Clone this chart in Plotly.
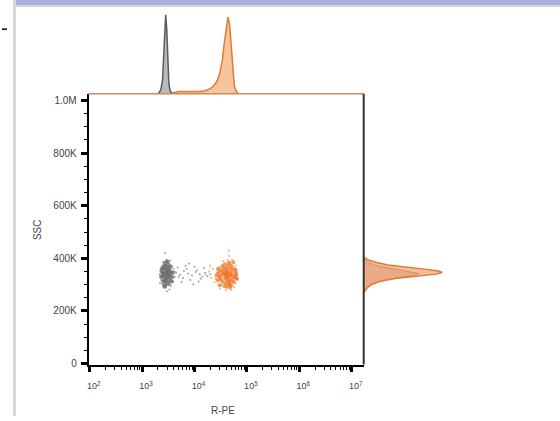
import numpy as np
import plotly.graph_objects as go

# ---------------- data (R-PE as log10 intensity, SSC in thousands) ----------------
gray_core_lx = [3.47,3.43,3.51,3.41,3.53,3.45,3.49,3.39,3.55,3.47,3.43,3.51,3.38,3.56,3.45,3.49,3.41,3.53,3.47,3.44,
                3.50,3.40,3.54,3.46,3.48,3.47,3.42,3.52,3.44,3.50,3.37,3.58,3.45,3.49,3.47,3.40,3.54,3.43,3.51,3.47,
                3.42,3.52,3.45,3.49,3.39,3.36,3.59,3.38,3.57,3.44]
gray_core_ssc = [340,352,330,318,362,372,308,345,338,325,382,355,330,348,300,368,336,322,358,312,
                 378,362,315,344,333,390,296,348,328,342,352,328,362,350,316,310,370,340,302,348,
                 372,335,322,386,342,330,345,362,312,292]
gray_sparse_lx = [3.37,3.56,3.35,3.39,3.58,3.40,3.55,3.36,3.60,3.38,3.33,3.62,3.41,3.54,3.34,3.44,3.47,3.52,3.39,3.57,
                  3.65,3.72,3.80,3.70,3.88,3.95,4.02,3.78,4.10,3.85,4.15,3.92,4.05,4.20,3.68,4.25,3.75,4.00,4.12,3.62,
                  3.98,4.18,3.83,4.30,4.08,3.90]
gray_sparse_ssc = [330,345,355,300,312,385,295,318,360,372,340,330,288,392,305,420,275,282,362,370,
                   345,338,352,330,342,335,348,325,340,360,330,318,355,345,365,332,310,368,322,350,
                   302,362,372,340,312,380]
orange_core_lx = [4.63,4.58,4.68,4.54,4.71,4.61,4.66,4.52,4.74,4.59,4.65,4.69,4.49,4.77,4.57,4.67,4.55,4.72,4.63,4.60,
                  4.66,4.50,4.75,4.61,4.64,4.53,4.70,4.58,4.67,4.46,4.79,4.61,4.65,4.51,4.73,4.59,4.68,4.62,4.56,4.71,
                  4.47,4.78,4.64,4.58,4.67,4.44,4.80,4.62,4.70,4.55,4.42,4.81,4.45,4.78,4.48,4.74]
orange_core_ssc = [332,345,320,310,352,365,300,338,328,322,375,342,325,340,295,360,350,315,348,305,
                   384,355,310,336,328,370,298,330,336,345,325,355,312,318,362,340,290,318,362,335,
                   332,350,345,378,306,318,338,292,372,342,335,322,360,358,298,385]
orange_sparse_lx = [4.48,4.50,4.46,4.78,4.80,4.47,4.77,4.51,4.79,4.45,4.82,4.49,4.76,4.63,4.66,4.60,4.70,4.55,4.44,4.81,
                    4.65,4.72,4.28,4.32,4.35,4.22,4.38,4.30,4.42,4.40]
orange_sparse_ssc = [330,350,315,330,355,365,305,298,372,342,320,285,290,395,410,280,280,390,355,345,
                     430,395,350,325,360,338,310,372,345,322]

# top histogram (R-PE)
gray_top_lx = [3.30,3.33,3.36,3.39,3.41,3.43,3.45,3.47,3.49,3.51,3.53,3.56,3.60]
gray_top_cnt = [0,2,6,18,45,80,100,82,40,14,5,1,0]
orange_top_lx = [3.50,3.60,3.70,3.80,3.90,4.00,4.10,4.20,4.28,4.35,4.42,4.48,4.53,4.57,4.61,4.64,4.67,4.70,4.73,4.76,4.80,4.84]
orange_top_cnt = [0,2,3,3,3,3,3,4,6,9,15,25,42,65,88,97,88,60,30,10,3,0]

# right histogram (SSC)
orange_right_ssc = [270,280,290,300,312,323,334,340,346,352,360,375,385,395,405]
orange_right_cnt = [0,2,5,10,20,40,74,92,100,95,74,31,15,5,0]
gray_right_ssc = [270,285,300,315,325,335,342,350,360,372,385,400]
gray_right_cnt = [0,3,9,22,40,62,70,55,35,16,5,0]

x_tick_vals = [1e2, 1e3, 1e4, 1e5, 1e6, 1e7]
x_tick_text = ["10<sup>2</sup>", "10<sup>3</sup>", "10<sup>4</sup>", "10<sup>5</sup>", "10<sup>6</sup>", "10<sup>7</sup>"]
y_tick_vals = [0, 200000, 400000, 600000, 800000, 1000000]
y_tick_text = ["0", "200K", "400K", "600K", "800K", "1.0M"]

# ---------------- figure ----------------
def raw(lx):
    return list(10 ** np.array(lx))

def k(v):
    return list(np.array(v) * 1000)

GRAY = "#6e6e6e"
ORANGE = "#f07526"

fig = go.Figure()
fig.add_trace(go.Scatter(x=raw(gray_sparse_lx), y=k(gray_sparse_ssc), mode="markers",
                         marker=dict(size=2, color="#8a8a8a", opacity=0.8), xaxis="x", yaxis="y"))
fig.add_trace(go.Scatter(x=raw(orange_sparse_lx), y=k(orange_sparse_ssc), mode="markers",
                         marker=dict(size=2, color="#f59a55", opacity=0.8), xaxis="x", yaxis="y"))
fig.add_trace(go.Scatter(x=raw(gray_core_lx), y=k(gray_core_ssc), mode="markers",
                         marker=dict(size=4, color=GRAY, opacity=0.75), xaxis="x", yaxis="y"))
fig.add_trace(go.Scatter(x=raw(orange_core_lx), y=k(orange_core_ssc), mode="markers",
                         marker=dict(size=4, color=ORANGE, opacity=0.75), xaxis="x", yaxis="y"))

# top histograms
fig.add_trace(go.Scatter(x=raw(orange_top_lx), y=orange_top_cnt, mode="lines", fill="tozeroy",
                         line=dict(color="#e07a35", width=1.5), fillcolor="rgba(247,180,130,0.8)",
                         xaxis="x2", yaxis="y2"))
fig.add_trace(go.Scatter(x=raw(gray_top_lx), y=gray_top_cnt, mode="lines", fill="tozeroy",
                         line=dict(color="#5a5a5a", width=1.5), fillcolor="rgba(180,180,180,0.9)",
                         xaxis="x2", yaxis="y2"))

# right histograms
fig.add_trace(go.Scatter(x=gray_right_cnt, y=k(gray_right_ssc), mode="lines", fill="tozerox",
                         line=dict(color="#9a6a50", width=1), fillcolor="rgba(190,160,150,0.6)",
                         xaxis="x3", yaxis="y3"))
fig.add_trace(go.Scatter(x=orange_right_cnt, y=k(orange_right_ssc), mode="lines", fill="tozerox",
                         line=dict(color="#e07a35", width=1.5), fillcolor="rgba(240,160,110,0.7)",
                         xaxis="x3", yaxis="y3"))

W, H = 560, 421
def px_x(p): return p / W
def px_y(p): return 1 - p / H

x_dom = [px_x(87), px_x(363)]
y_dom = [px_y(369), px_y(95)]

minor_x = [m * 10 ** d for d in range(2, 7) for m in range(2, 10)] + [2e7]

fig.update_layout(
    width=W, height=H, margin=dict(l=0, r=0, t=0, b=0),
    paper_bgcolor="white", plot_bgcolor="rgba(0,0,0,0)", showlegend=False,
    font=dict(family="Liberation Sans, Arial, sans-serif", size=10, color="#444"),
    xaxis=dict(type="log", range=[1.98, 7.23], domain=x_dom, anchor="y",
               tickmode="array", tickvals=x_tick_vals, ticktext=x_tick_text,
               ticks="outside", ticklen=5, tickwidth=2.5, tickcolor="black",
               showline=True, linecolor="black", linewidth=2, showgrid=False, zeroline=False,
               tickfont=dict(size=9, color="#444"), ticklabelshift=4, ticklabelstandoff=7,
               minor=dict(tickmode="array", tickvals=minor_x, ticks="outside", ticklen=3,
                          tickwidth=1, tickcolor="black", showgrid=False)),
    yaxis=dict(range=[-3750, 1024800], domain=y_dom, anchor="x",
               tickmode="array", tickvals=y_tick_vals, ticktext=y_tick_text,
               ticks="outside", ticklen=6, tickwidth=2.5, tickcolor="black",
               showline=True, linecolor="black", linewidth=2, showgrid=False, zeroline=False,
               tickfont=dict(size=10, color="#444"), ticklabelstandoff=2,
               minor=dict(dtick=50000, ticks="outside", ticklen=3, tickwidth=1,
                          tickcolor="black", showgrid=False)),
    xaxis2=dict(type="log", range=[1.98, 7.23], domain=x_dom, anchor="y2", visible=False),
    yaxis2=dict(range=[0, 102.5], domain=[px_y(95), px_y(13)], anchor="x2", visible=False),
    xaxis3=dict(range=[0, 100], domain=[px_x(363), px_x(442)], anchor="y3", visible=False),
    yaxis3=dict(range=[-3750, 1024800], domain=y_dom, anchor="x3", visible=False),
)

shapes = [
    dict(type="line", xref="paper", yref="paper", x0=x_dom[0], x1=x_dom[1], y0=y_dom[1], y1=y_dom[1],
         line=dict(color="#c98a5c", width=1.5)),
    dict(type="line", xref="paper", yref="paper", x0=x_dom[1], x1=x_dom[1], y0=y_dom[0], y1=y_dom[1],
         line=dict(color="#333333", width=2)),
    dict(type="rect", xref="paper", yref="paper", x0=px_x(14), x1=1, y0=px_y(5), y1=1,
         fillcolor="#a9afdc", line=dict(width=0), layer="above"),
    dict(type="rect", xref="paper", yref="paper", x0=px_x(14), x1=1, y0=px_y(7), y1=px_y(5),
         fillcolor="#d4d4d4", line=dict(width=0), layer="above"),
    dict(type="rect", xref="paper", yref="paper", x0=px_x(11), x1=px_x(14), y0=0, y1=1,
         fillcolor="#d6d6d6", line=dict(width=0), layer="above"),
    dict(type="line", xref="paper", yref="paper", x0=0, x1=px_x(5), y0=px_y(29.5), y1=px_y(29.5),
         line=dict(color="black", width=1.5)),
]
fig.update_layout(shapes=shapes)

fig.add_annotation(text="SSC", xref="paper", yref="paper", x=px_x(35), y=px_y(232),
                   xanchor="center", yanchor="middle",
                   textangle=-90, showarrow=False, font=dict(size=10, color="#444"))
fig.add_annotation(text="R-PE", xref="paper", yref="paper", x=px_x(222), y=px_y(415),
                   xanchor="center", yanchor="middle",
                   showarrow=False, font=dict(size=10, color="#444"))

fig.write_html("out.html", config={"displayModeBar": False},
               post_script="document.body.style.margin='0px';")
